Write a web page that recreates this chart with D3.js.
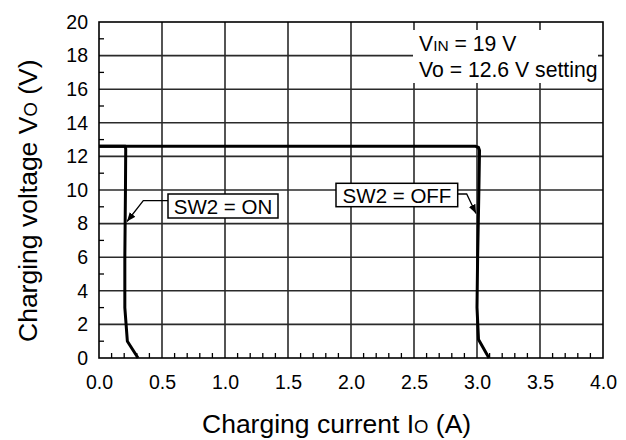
<!DOCTYPE html>
<html><head><meta charset="utf-8">
<script src="https://cdn.jsdelivr.net/npm/d3@7"></script>
<style>html,body{margin:0;padding:0;background:#fff}svg{display:block;font-family:"Liberation Sans",Arial,sans-serif}</style>
</head><body>
<svg id="c" width="626" height="440"></svg>
<script>
const xTicks = [0.0,0.5,1.0,1.5,2.0,2.5,3.0,3.5,4.0];
const yTicks = [0,2,4,6,8,10,12,14,16,18,20];
const xMinor = [0.1,0.2,0.3,0.4,0.6,0.7,0.8,0.9,1.1,1.2,1.3,1.4,1.6,1.7,1.8,1.9,2.1,2.2,2.3,2.4,2.6,2.7,2.8,2.9,3.1,3.2,3.3,3.4,3.6,3.7,3.8,3.9];
const yMinor = [1,3,5,7,9,11,13,15,17,19];
const onCurrent  = [0, 0.21, 0.212, 0.21, 0.205, 0.205, 0.225, 0.31];
const onVoltage  = [12.6, 12.6, 12.4, 10, 6, 3, 1.0, 0];
const offCurrent = [0, 2.99, 3.012, 3.02, 3.015, 3.005, 3.0, 3.012, 3.095];
const offVoltage = [12.6, 12.6, 12.53, 12.35, 10, 6, 3, 1.1, 0];

const svg = d3.select("#c");
const x = d3.scaleLinear([0,4],[99,603]);
const y = d3.scaleLinear([0,20],[358,22]);
const F = '"Liberation Sans",Arial,sans-serif';

// grid
svg.append("g").selectAll("line").data(xTicks.slice(1,-1)).join("line")
  .attr("x1",d=>x(d)).attr("x2",d=>x(d)).attr("y1",y(0)).attr("y2",y(20))
  .attr("stroke","#2a2a2a").attr("stroke-width",1.6);
svg.append("g").selectAll("line").data(yTicks.slice(1,-1)).join("line")
  .attr("y1",d=>y(d)).attr("y2",d=>y(d)).attr("x1",x(0)).attr("x2",x(4))
  .attr("stroke","#2a2a2a").attr("stroke-width",1.6);
// minor ticks
svg.append("g").selectAll("line").data(xMinor).join("line")
  .attr("x1",d=>x(d)).attr("x2",d=>x(d)).attr("y1",y(0)).attr("y2",y(0)-5)
  .attr("stroke","#000").attr("stroke-width",1.3);
svg.append("g").selectAll("line").data(yMinor).join("line")
  .attr("y1",d=>y(d)).attr("y2",d=>y(d)).attr("x1",x(0)).attr("x2",x(0)+5)
  .attr("stroke","#000").attr("stroke-width",1.3);

// annotation background
svg.append("rect").attr("x",413).attr("y",30).attr("width",185).attr("height",53).attr("fill","#fff");

// border
svg.append("rect").attr("x",x(0)).attr("y",y(20)).attr("width",x(4)-x(0)).attr("height",y(0)-y(20))
  .attr("fill","none").attr("stroke","#000").attr("stroke-width",1.6);

// axes labels
const ax = svg.append("g").attr("transform",`translate(0,${y(0)})`)
  .call(d3.axisBottom(x).tickValues(xTicks).tickFormat(d3.format(".1f")).tickSize(0).tickPadding(17));
const ay = svg.append("g").attr("transform",`translate(${x(0)},0)`)
  .call(d3.axisLeft(y).tickValues(yTicks).tickSize(0).tickPadding(11));
[ax,ay].forEach(a=>{a.select(".domain").remove();a.selectAll("text").attr("font-size",19.5).attr("font-family",F).attr("fill","#000");});

// curves
const line = d3.line().x(d=>x(d[0])).y(d=>y(d[1])).curve(d3.curveLinear);
svg.append("path").attr("d",line(onCurrent.map((c,i)=>[c,onVoltage[i]])))
  .attr("fill","none").attr("stroke","#000").attr("stroke-width",3).attr("stroke-linejoin","round");
svg.append("path").attr("d",line(offCurrent.map((c,i)=>[c,offVoltage[i]])))
  .attr("fill","none").attr("stroke","#000").attr("stroke-width",3).attr("stroke-linejoin","round");

// arrow marker
svg.append("defs").append("marker").attr("id","ah").attr("viewBox","0 0 10 10").attr("refX",10).attr("refY",5)
  .attr("markerWidth",9).attr("markerHeight",9).attr("markerUnits","userSpaceOnUse").attr("orient","auto")
  .append("path").attr("d","M0,1 L10,5 L0,9 Z").attr("fill","#000");

// SW2 = ON label
svg.append("path").attr("d",`M168,200.7 L143.3,200.7 L127,221.5`).attr("fill","none").attr("stroke","#000").attr("stroke-width",1.3).attr("marker-end","url(#ah)");
svg.append("rect").attr("x",168).attr("y",194).attr("width",110).attr("height",24).attr("fill","#fff").attr("stroke","#000").attr("stroke-width",1.5);
svg.append("text").attr("x",223).attr("y",214).attr("text-anchor","middle").attr("font-size",20.5).attr("font-family",F).text("SW2 = ON");

// SW2 = OFF label
svg.append("path").attr("d",`M457.7,194 L466.7,194 L476,213.5`).attr("fill","none").attr("stroke","#000").attr("stroke-width",1.3).attr("marker-end","url(#ah)");
svg.append("rect").attr("x",336).attr("y",183.3).attr("width",121.7).attr("height",23.4).attr("fill","#fff").attr("stroke","#000").attr("stroke-width",1.5);
svg.append("text").attr("x",397).attr("y",202.7).attr("text-anchor","middle").attr("font-size",20.5).attr("font-family",F).text("SW2 = OFF");

// conditions text
const t1 = svg.append("text").attr("x",419).attr("y",51).attr("font-size",21.2).attr("font-family",F);
t1.append("tspan").text("V");
t1.append("tspan").attr("font-size",15.5).text("IN");
t1.append("tspan").text(" = 19 V");
const t2 = svg.append("text").attr("x",419).attr("y",76.5).attr("font-size",21.2).attr("font-family",F);
t2.append("tspan").text("Vo = 12.6 V setting");

// axis titles
const xt = svg.append("text").attr("x",202).attr("y",433).attr("text-anchor","start").attr("font-size",26.5).attr("font-family",F);
xt.append("tspan").text("Charging current I");
xt.append("tspan").attr("font-size",18.5).text("O");
xt.append("tspan").text(" (A)");
const yt = svg.append("text").attr("transform",`translate(37,342) rotate(-90)`).attr("text-anchor","start").attr("font-size",26.5).attr("font-family",F);
yt.append("tspan").text("Charging voltage V");
yt.append("tspan").attr("font-size",18.5).text("O");
yt.append("tspan").text(" (V)");
</script>
</body></html>
